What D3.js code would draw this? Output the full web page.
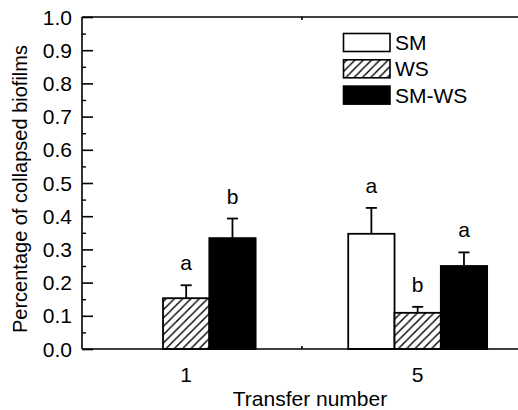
<!DOCTYPE html>
<html>
<head>
<meta charset="utf-8">
<script src="https://cdn.jsdelivr.net/npm/d3@7/dist/d3.min.js"></script>
<style>
  html, body { margin: 0; padding: 0; background: #fff; }
  svg { display: block; }
  text { font-family: "Liberation Sans", Arial, sans-serif; fill: #000; font-size: 21px; }
</style>
</head>
<body>
<svg id="chart" width="518" height="410"></svg>
<script>
// Transfer numbers on the x axis and the three biofilm types
const transfers = ["1", "5"];
const seriesNames = ["SM", "WS", "SM-WS"];

// Mean fraction of collapsed biofilms per transfer, with upper error
const smMean   = [0, 0.347];
const smErr    = [0, 0.078];
const wsMean   = [0.153, 0.109];
const wsErr    = [0.039, 0.018];
const smwsMean = [0.334, 0.250];
const smwsErr  = [0.059, 0.041];

// Significance letters over each bar
const smLetters   = ["", "a"];
const wsLetters   = ["a", "b"];
const smwsLetters = ["b", "a"];

const yTicks = [0, 0.1, 0.2, 0.3, 0.4, 0.5, 0.6, 0.7, 0.8, 0.9, 1.0];

(function () {
const svg = d3.select("#chart");
const W = 518;
const plotLeft = 82, plotTop = 17, plotBottom = 349;

// Transfers sit at positions 1 and 2 of a linear axis
const x = d3.scaleLinear().domain([0.55, 2.55]).range([plotLeft, 545]);
const y = d3.scaleLinear().domain([0, 1]).range([plotBottom, plotTop]);
const barW = x(1.2) - x(1);

const series = [
  { name: seriesNames[0], mean: smMean,   err: smErr,   letters: smLetters,   fill: "#fff" },
  { name: seriesNames[1], mean: wsMean,   err: wsErr,   letters: wsLetters,   fill: "url(#hatch)" },
  { name: seriesNames[2], mean: smwsMean, err: smwsErr, letters: smwsLetters, fill: "#000" }
];

// Diagonal hatching for WS
const defs = svg.append("defs");
const pat = defs.append("pattern")
  .attr("id", "hatch")
  .attr("patternUnits", "userSpaceOnUse")
  .attr("width", 8.3).attr("height", 8.3);
pat.append("rect").attr("width", 8.3).attr("height", 8.3).attr("fill", "#fff");
pat.append("path")
  .attr("d", "M-2,2 L2,-2 M0,8.3 L8.3,0 M6.3,10.3 L10.3,6.3")
  .attr("stroke", "#000").attr("stroke-width", 1.4);

// Bars
const records = [];
series.forEach((s, si) => {
  transfers.forEach((t, ti) => {
    records.push({ si, ti, s, value: s.mean[ti], err: s.err[ti], letter: s.letters[ti] });
  });
});
const shown = records.filter(d => d.value > 0);
const barX = d => x(d.ti + 1) + (d.si - 1.5) * barW;

svg.append("g").selectAll("rect")
  .data(shown)
  .join("rect")
  .attr("x", barX)
  .attr("y", d => y(d.value))
  .attr("width", barW)
  .attr("height", d => y(0) - y(d.value))
  .attr("fill", d => d.s.fill)
  .attr("stroke", "#000")
  .attr("stroke-width", 1.8);

// Upper error bars
const eb = svg.append("g").attr("stroke", "#000").attr("stroke-width", 1.8);
shown.forEach(d => {
  const cx = barX(d) + barW / 2;
  eb.append("line").attr("x1", cx).attr("x2", cx)
    .attr("y1", y(d.value)).attr("y2", y(d.value + d.err));
  eb.append("line").attr("x1", cx - 5.5).attr("x2", cx + 5.5)
    .attr("y1", y(d.value + d.err)).attr("y2", y(d.value + d.err));
});

// Letters
svg.append("g").selectAll("text")
  .data(shown.filter(d => d.letter))
  .join("text")
  .attr("x", d => barX(d) + barW / 2)
  .attr("y", d => y(d.value + d.err) - 15)
  .attr("text-anchor", "middle")
  .text(d => d.letter);

// Frame lines
const frame = svg.append("g").attr("stroke", "#000").attr("stroke-width", 1.6).attr("fill", "none");
frame.append("line").attr("x1", plotLeft).attr("x2", W).attr("y1", y(0)).attr("y2", y(0));
frame.append("line").attr("x1", plotLeft).attr("x2", W).attr("y1", y(1)).attr("y2", y(1));
frame.append("line").attr("x1", plotLeft).attr("x2", plotLeft).attr("y1", y(1)).attr("y2", y(0));

// Y axis: inward major and minor ticks
const yAxis = d3.axisRight(y)
  .tickValues(yTicks)
  .tickSize(11)
  .tickFormat("");
const yg = svg.append("g").attr("transform", `translate(${plotLeft},0)`).call(yAxis);
yg.select(".domain").remove();
yg.selectAll(".tick line").attr("stroke-width", 1.6);

const yMinor = d3.axisRight(y)
  .tickValues(d3.range(0.05, 1, 0.1))
  .tickSize(4)
  .tickFormat("");
const ymg = svg.append("g").attr("transform", `translate(${plotLeft},0)`).call(yMinor);
ymg.select(".domain").remove();
ymg.selectAll(".tick line").attr("stroke-width", 1.4);

// Y tick labels
svg.append("g").selectAll("text")
  .data(yTicks)
  .join("text")
  .attr("x", 72)
  .attr("y", d => y(d))
  .attr("dy", "0.36em")
  .attr("text-anchor", "end")
  .text(d => d3.format(".1f")(d));

// X axis: category labels and the small minor tick between them
svg.append("g").selectAll("text")
  .data(transfers)
  .join("text")
  .attr("x", (d, i) => x(i + 1))
  .attr("y", 382)
  .attr("text-anchor", "middle")
  .text(d => d);

const xMinor = svg.append("g").attr("stroke", "#000").attr("stroke-width", 1.6);
[1.5].forEach(v => {
  xMinor.append("line").attr("x1", x(v)).attr("x2", x(v)).attr("y1", y(0)).attr("y2", y(0) - 3);
  xMinor.append("line").attr("x1", x(v)).attr("x2", x(v)).attr("y1", y(1)).attr("y2", y(1) + 3);
});

// Axis titles
svg.append("text")
  .attr("x", 310).attr("y", 406)
  .attr("text-anchor", "middle")
  .text("Transfer number");

svg.append("text")
  .attr("transform", `translate(27,333) rotate(-90)`)
  .attr("text-anchor", "start")
  .style("font-size", "20px")
  .text("Percentage of collapsed biofilms");

// Legend
const legend = svg.append("g");
series.forEach((s, i) => {
  const ly = 33.5 + i * 26.3;
  legend.append("rect")
    .attr("x", 343.5).attr("y", ly)
    .attr("width", 46.5).attr("height", 18)
    .attr("fill", s.fill)
    .attr("stroke", "#000").attr("stroke-width", 1.6);
  legend.append("text")
    .attr("x", 395).attr("y", ly + 16.5)
    .text(s.name);
});
})();
</script>
</body>
</html>
